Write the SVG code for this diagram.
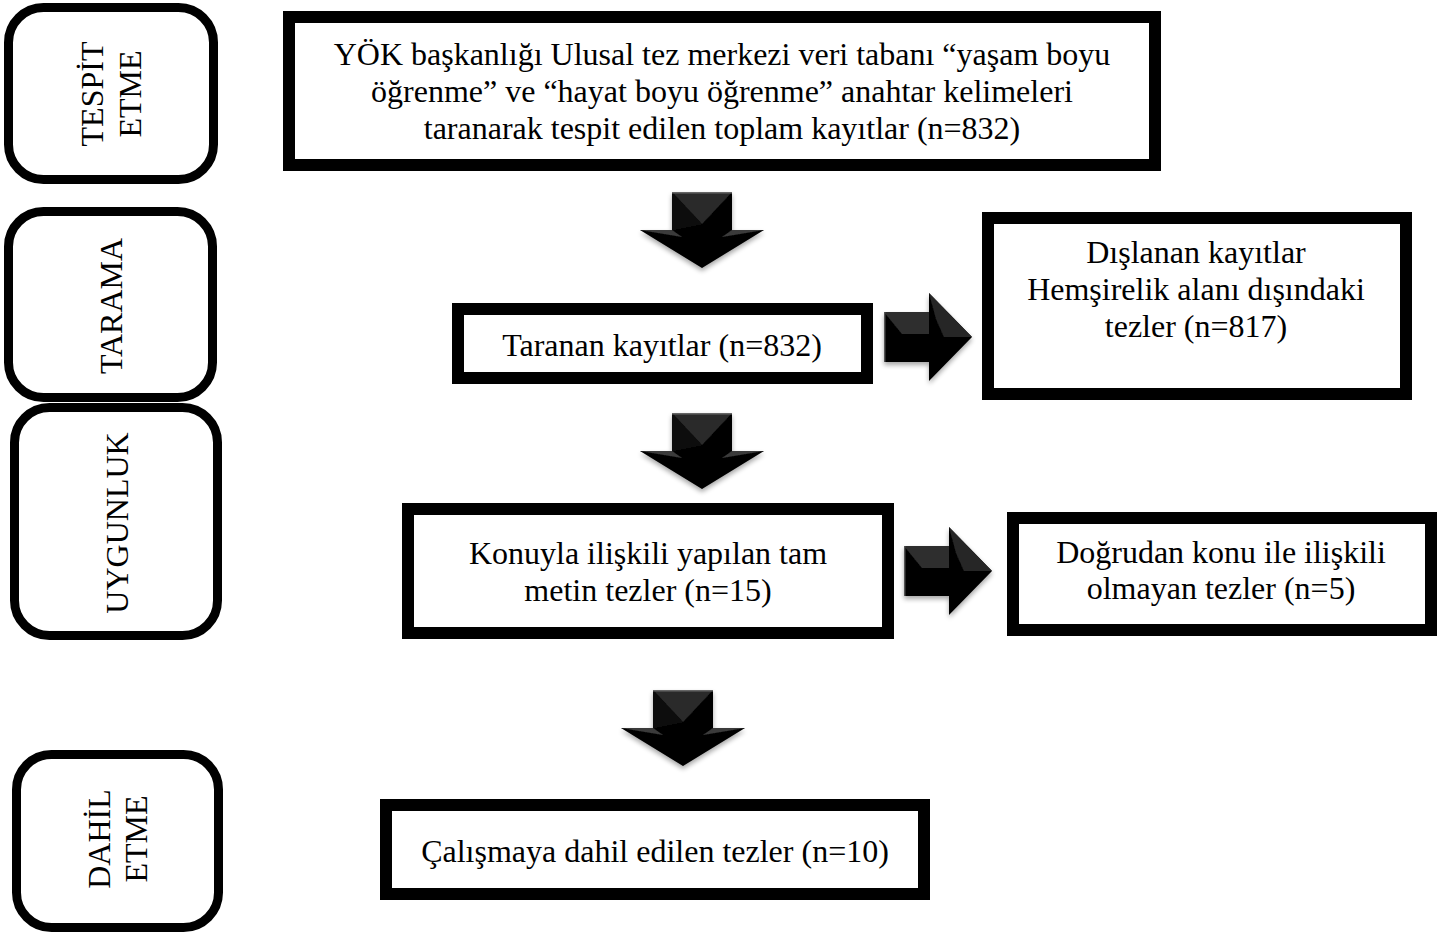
<svg xmlns="http://www.w3.org/2000/svg" width="1447" height="933" viewBox="0 0 1447 933">
<style>
.side{fill:#fff;stroke:#000;stroke-width:9}
.box{fill:#fff;stroke:#000;stroke-width:12}
text{font-family:"Liberation Serif","Times New Roman",serif;font-size:32px;fill:#000;text-anchor:middle}
</style>
<defs>
<filter id="sh" x="-30%" y="-30%" width="160%" height="160%">
<feGaussianBlur in="SourceAlpha" stdDeviation="2.5"/>
<feOffset dx="0" dy="3" result="b"/>
<feComponentTransfer><feFuncA type="linear" slope="0.35"/></feComponentTransfer>
<feMerge><feMergeNode/><feMergeNode in="SourceGraphic"/></feMerge>
</filter>
<g id="down">
<polygon points="-30,0 30,0 30,38 62,38 0,76 -62,38 -30,38" fill="#050505"/>
<polygon points="-30,0 30,0 0,32" fill="#2a2a2a"/>
<polygon points="-30,0 0,32 -30,38" fill="#111"/>
<polygon points="-62,38 -30,38 -20,45" fill="#3a3a3a"/>
<polygon points="62,38 30,38 20,45" fill="#3a3a3a"/>
<line x1="-30" y1="0.7" x2="30" y2="0.7" stroke="#666" stroke-width="1.4"/>
</g>
<g id="right">
<polygon points="0,-25 45,-25 45,-44 88,0 45,44 45,25 0,25" fill="#050505"/>
<polygon points="0,-25 45,-25 45,-3 18,-3" fill="#2e2e2e"/>
<polygon points="45,-44 88,0 60,0 52,-18" fill="#272727"/>
<line x1="0.7" y1="-25" x2="0.7" y2="25" stroke="#555" stroke-width="1.4"/>
</g>
</defs>

<g id="stage-tespit">
<rect class="side" x="8.5" y="7.5" width="205" height="172" rx="35"/>
<text transform="translate(103,94) rotate(-90)">TESPİT</text>
<text transform="translate(141,94) rotate(-90)">ETME</text>
</g>
<g id="stage-tarama">
<rect class="side" x="8.5" y="211.5" width="204" height="186" rx="35"/>
<text transform="translate(122,306) rotate(-90)">TARAMA</text>
</g>
<g id="stage-uygunluk">
<rect class="side" x="14.5" y="407.5" width="203" height="228" rx="35"/>
<text transform="translate(128,523) rotate(-90)">UYGUNLUK</text>
</g>
<g id="stage-dahil">
<rect class="side" x="16.5" y="754.5" width="202" height="173" rx="35"/>
<text transform="translate(110,839) rotate(-90)">DAHİL</text>
<text transform="translate(147,839) rotate(-90)">ETME</text>
</g>

<g id="n-records">
<rect class="box" x="289" y="17" width="866" height="148"/>
<text x="722" y="65">YÖK başkanlığı Ulusal tez merkezi veri tabanı “yaşam boyu</text>
<text x="722" y="102">öğrenme” ve “hayat boyu öğrenme” anahtar kelimeleri</text>
<text x="722" y="139">taranarak tespit edilen toplam kayıtlar (n=832)</text>
</g>
<g id="n-screened">
<rect class="box" x="458" y="309" width="409" height="69"/>
<text x="662" y="356">Taranan kayıtlar (n=832)</text>
</g>
<g id="n-excluded">
<rect class="box" x="988" y="218" width="418" height="176"/>
<text x="1196" y="263">Dışlanan kayıtlar</text>
<text x="1196" y="300">Hemşirelik alanı dışındaki</text>
<text x="1196" y="337">tezler (n=817)</text>
</g>
<g id="n-fulltext">
<rect class="box" x="408" y="509" width="480" height="124"/>
<text x="648" y="564">Konuyla ilişkili yapılan tam</text>
<text x="648" y="601">metin tezler (n=15)</text>
</g>
<g id="n-unrelated">
<rect class="box" x="1013" y="518" width="418" height="112"/>
<text x="1221" y="563">Doğrudan konu ile ilişkili</text>
<text x="1221" y="599">olmayan tezler (n=5)</text>
</g>
<g id="n-included">
<rect class="box" x="386" y="805" width="538" height="89"/>
<text x="655" y="862">Çalışmaya dahil edilen tezler (n=10)</text>
</g>

<g id="connectors" filter="url(#sh)">
<use href="#down" transform="translate(702,192)"/>
<use href="#down" transform="translate(702,413)"/>
<use href="#down" transform="translate(683,690)"/>
<use href="#right" transform="translate(884,337)"/>
<use href="#right" transform="translate(904,571)"/>
</g>
</svg>
